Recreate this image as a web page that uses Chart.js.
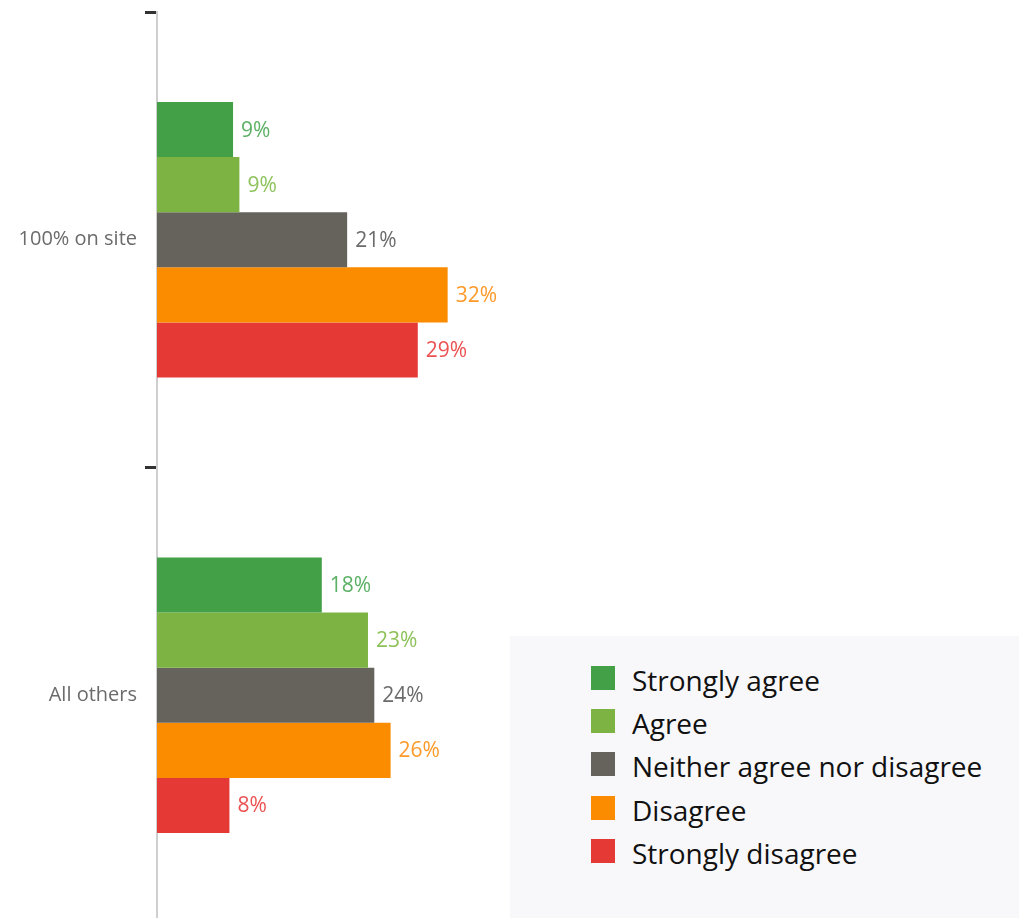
<!DOCTYPE html>
<html>
<head>
<meta charset="utf-8">
<script src="https://cdn.jsdelivr.net/npm/chart.js@4.4.1/dist/chart.umd.min.js"></script>
<style>
    html, body { margin: 0; padding: 0; background: #fff; overflow: hidden; }
    #wrap { position: relative; width: 1019px; height: 918px; overflow: hidden; }
    #chart { position: absolute; left: 0; top: 0; }
    #legend {
        position: absolute; left: 510px; top: 636px; width: 509px; height: 290px;
        background: #f8f8fa; padding-top: 22px; box-sizing: border-box;
        font-family: 'Open Sans', sans-serif; font-size: 28px; color: #111;
    }
    .item { display: flex; align-items: center; height: 43.4px; }
    .box { width: 24px; height: 24px; margin-left: 81px; margin-right: 17px; position: relative; top: -2px; }
</style>
</head>
<body>
<div id="wrap">
    <canvas id="chart" width="1019" height="935"></canvas>
    <div id="legend"></div>
</div>
<script>
    var categories = ['100% on site', 'All others'];
    var seriesNames = ['Strongly agree', 'Agree', 'Neither agree nor disagree', 'Disagree', 'Strongly disagree'];

    // percent per category
    var stronglyAgree = [8.4, 18.2];
    var agree = [9.1, 23.3];
    var neither = [21.0, 24.0];
    var disagree = [32.1, 25.8];
    var stronglyDisagree = [28.8, 8.0];

    // text printed next to each bar
    var stronglyAgreeText = ['9%', '18%'];
    var agreeText = ['9%', '23%'];
    var neitherText = ['21%', '24%'];
    var disagreeText = ['32%', '26%'];
    var stronglyDisagreeText = ['29%', '8%'];

    var barColors = ['#43a047', '#7cb342', '#66635d', '#fb8c00', '#e53935'];
    var labelColors = ['#5bb063', '#8dc25a', '#6b6b6b', '#fd9a2a', '#ec5252'];

    var allValues = [stronglyAgree, agree, neither, disagree, stronglyDisagree];
    var allText = [stronglyAgreeText, agreeText, neitherText, disagreeText, stronglyDisagreeText];

    var datasets = [];
    for (var i = 0; i < seriesNames.length; i++) {
        datasets.push({
            label: seriesNames[i],
            data: allValues[i],
            texts: allText[i],
            labelColor: labelColors[i],
            backgroundColor: barColors[i],
            borderWidth: 0,
            categoryPercentage: 0.605,
            barPercentage: 1.0
        });
    }

    var barLabels = {
        id: 'barLabels',
        afterDatasetsDraw: function (chart) {
            var ctx = chart.ctx;
            ctx.save();
            ctx.font = '21px "Open Sans", sans-serif';
            ctx.textAlign = 'left';
            ctx.textBaseline = 'middle';
            chart.data.datasets.forEach(function (ds, di) {
                chart.getDatasetMeta(di).data.forEach(function (bar, j) {
                    ctx.fillStyle = ds.labelColor;
                    ctx.fillText(ds.texts[j], bar.x + 8, bar.y + 1);
                });
            });
            ctx.restore();
        }
    };

    var ctx = document.getElementById('chart').getContext('2d');
    var chart = new Chart(ctx, {
        type: 'bar',
        data: { labels: categories, datasets: datasets },
        plugins: [barLabels],
        options: {
            indexAxis: 'y',
            responsive: false,
            animation: false,
            layout: { padding: { top: 12, bottom: 12, left: 0, right: 0 } },
            plugins: {
                legend: { display: false },
                tooltip: { enabled: false }
            },
            scales: {
                x: { display: false, min: 0, max: 95.2 },
                y: {
                    offset: true,
                    afterFit: function (scale) {
                        scale.width = 157;
                        // labels sit mid-category, no extra room needed
                        scale.paddingTop = 0;
                        scale.paddingBottom = 0;
                    },
                    border: { display: true, color: '#cfcfcf', width: 2 },
                    grid: {
                        offset: true,
                        drawOnChartArea: false,
                        drawTicks: true,
                        tickLength: 12,
                        tickColor: '#333',
                        tickWidth: 3
                    },
                    ticks: {
                        padding: 8,
                        color: '#6b6b6b',
                        font: { family: 'Open Sans', size: 20 }
                    }
                }
            }
        }
    });

    // html legend built from the datasets
    var legend = document.getElementById('legend');
    chart.data.datasets.forEach(function (ds) {
        var row = document.createElement('div');
        row.className = 'item';
        var box = document.createElement('span');
        box.className = 'box';
        box.style.background = ds.backgroundColor;
        var txt = document.createElement('span');
        txt.textContent = ds.label;
        row.appendChild(box);
        row.appendChild(txt);
        legend.appendChild(row);
    });
</script>
</body>
</html>
